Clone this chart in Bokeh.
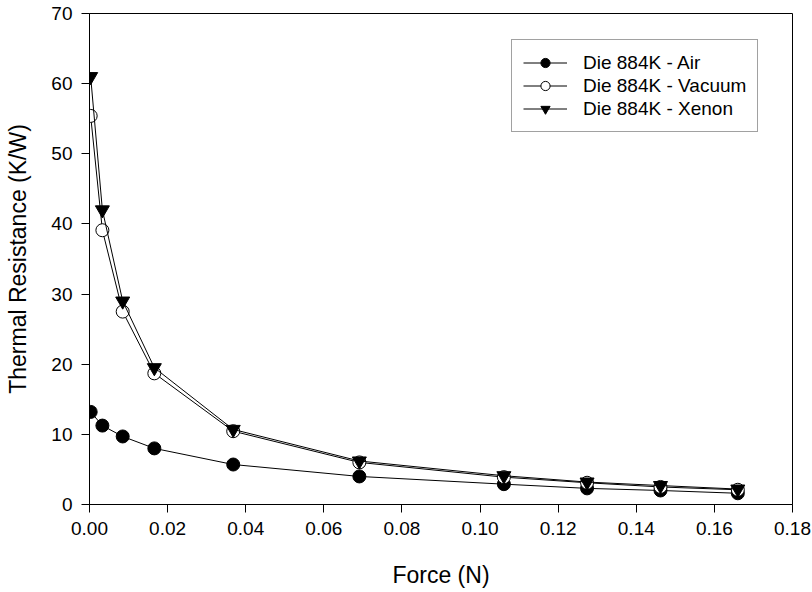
from bokeh.plotting import figure
from bokeh.models import Range1d, Legend, LegendItem, FixedTicker, NumeralTickFormatter
from bokeh.embed import file_html
from bokeh.resources import INLINE

force = [0.0003, 0.0033, 0.0085, 0.0166, 0.0368, 0.0691, 0.1061, 0.1274, 0.1462, 0.1660]
air = [13.2, 11.25, 9.7, 8.0, 5.7, 4.0, 2.9, 2.3, 2.0, 1.6]
vacuum = [55.4, 39.1, 27.5, 18.7, 10.45, 6.0, 3.9, 3.1, 2.5, 2.1]
xenon = [61.0, 42.0, 29.0, 19.5, 10.7, 6.2, 4.1, 3.2, 2.7, 2.2]
labels = ["Die 884K - Air", "Die 884K - Vacuum", "Die 884K - Xenon"]
x_ticks = [0.0, 0.02, 0.04, 0.06, 0.08, 0.10, 0.12, 0.14, 0.16, 0.18]
y_ticks = [0, 10, 20, 30, 40, 50, 60, 70]

FONT = "Liberation Sans"

p = figure(frame_width=703, frame_height=491, output_backend="svg", toolbar_location=None,
           x_range=Range1d(0, 0.18), y_range=Range1d(0, 70),
           min_border_left=89, min_border_right=20, min_border_top=13, min_border_bottom=88)
p.background_fill_color = "white"
p.border_fill_color = "white"
p.outline_line_color = "black"
p.outline_line_width = 1
p.xgrid.visible = False
p.ygrid.visible = False

for ax in (p.xaxis[0], p.yaxis[0]):
    ax.axis_line_color = "black"
    ax.major_tick_line_color = "black"
    ax.major_tick_in = 0
    ax.major_tick_out = 8
    ax.minor_tick_line_color = None
    ax.major_label_text_font = FONT
    ax.major_label_text_font_size = "19px"
    ax.major_label_text_color = "black"
    ax.axis_label_text_font = FONT
    ax.axis_label_text_font_size = "23px"
    ax.axis_label_text_font_style = "normal"
    ax.axis_label_text_color = "black"

p.xaxis.ticker = FixedTicker(ticks=x_ticks)
p.xaxis.formatter = NumeralTickFormatter(format="0.00")
p.yaxis.ticker = FixedTicker(ticks=y_ticks)
p.xaxis.axis_label = "Force (N)"
p.yaxis.axis_label = "Thermal Resistance (K/W)"
p.xaxis.major_label_standoff = 9
p.xaxis.axis_label_standoff = 24
p.yaxis.major_label_standoff = 9
p.yaxis.axis_label_standoff = 17

l1 = p.line(force, air, line_color="black", line_width=1)
s1 = p.scatter(force, air, marker="circle", size=13, fill_color="black", line_color="black")
l2 = p.line(force, vacuum, line_color="black", line_width=1)
s2 = p.scatter(force, vacuum, marker="circle", size=13, fill_color="white", line_color="black", line_width=1)
l3 = p.line(force, xenon, line_color="black", line_width=1)
s3 = p.scatter(force, xenon, marker="inverted_triangle", size=14, fill_color="black", line_color="black")

legend = Legend(items=[
    LegendItem(label=labels[0], renderers=[l1, s1]),
    LegendItem(label=labels[1], renderers=[l2, s2]),
    LegendItem(label=labels[2], renderers=[l3, s3]),
], location=(422, 372))
legend.label_text_font = FONT
legend.label_text_font_size = "19px"
legend.label_text_color = "black"
legend.glyph_width = 44
legend.glyph_height = 23
legend.label_height = 23
legend.label_standoff = 16
legend.spacing = 0
legend.padding = 11
legend.margin = 0
legend.border_line_color = "#444444"
legend.border_line_width = 1.5
legend.background_fill_alpha = 1
p.add_layout(legend, "center")

open("out.html", "w").write(file_html(p, INLINE))
